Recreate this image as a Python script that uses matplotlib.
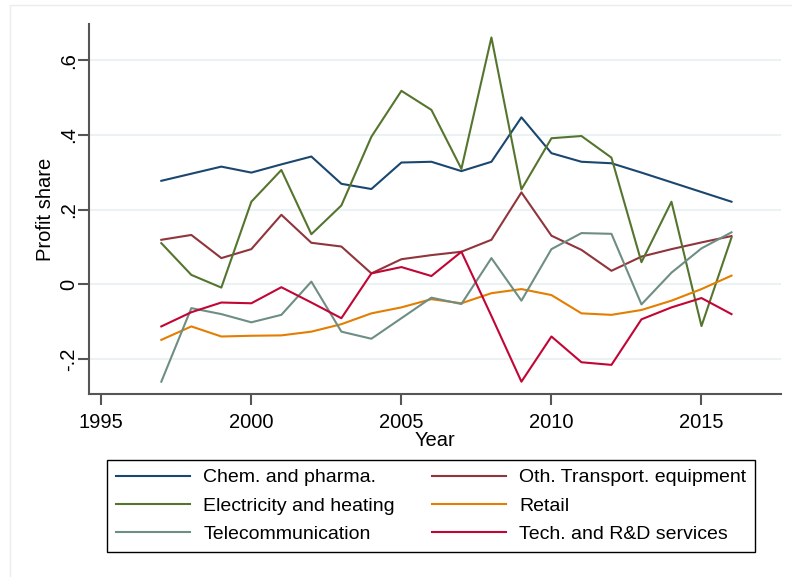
import numpy as np
import matplotlib.pyplot as plt
from matplotlib.patches import Rectangle

plt.rcParams['font.family'] = ['Liberation Sans', 'DejaVu Sans']

years = np.arange(1997, 2017)

chem = [0.277, 0.296, 0.315, 0.299, 0.321, 0.342, 0.269, 0.255, 0.326, 0.328,
        0.303, 0.328, 0.447, 0.351, 0.328, 0.324, 0.299, 0.273, 0.247, 0.221]
oth_transport = [0.119, 0.132, 0.070, 0.094, 0.186, 0.111, 0.101, 0.029, 0.067, 0.078,
                 0.087, 0.119, 0.246, 0.130, 0.092, 0.036, 0.074, 0.094, 0.112, 0.129]
electricity = [0.110, 0.025, -0.009, 0.221, 0.306, 0.134, 0.211, 0.395, 0.518, 0.467,
               0.309, 0.661, 0.254, 0.391, 0.397, 0.339, 0.059, 0.221, -0.112, 0.125]
retail = [-0.149, -0.113, -0.140, -0.138, -0.137, -0.127, -0.107, -0.078, -0.062, -0.040,
          -0.051, -0.024, -0.013, -0.029, -0.078, -0.082, -0.069, -0.044, -0.013, 0.023]
telecom = [-0.261, -0.064, -0.080, -0.102, -0.082, 0.007, -0.127, -0.146, -0.091, -0.036,
           -0.053, 0.070, -0.044, 0.094, 0.137, 0.135, -0.054, 0.031, 0.096, 0.139]
tech_rd = [-0.113, -0.075, -0.049, -0.051, -0.008, -0.049, -0.091, 0.029, 0.046, 0.022,
           0.087, -0.085, -0.261, -0.140, -0.209, -0.216, -0.094, -0.062, -0.037, -0.080]

series = [
    ("Chem. and pharma.", chem, "#1a476f"),
    ("Oth. Transport. equipment", oth_transport, "#90353b"),
    ("Electricity and heating", electricity, "#55752f"),
    ("Retail", retail, "#e37e00"),
    ("Telecommunication", telecom, "#6e8e84"),
    ("Tech. and R&D services", tech_rd, "#c10534"),
]

fig = plt.figure(figsize=(7.92, 5.77), dpi=100)
# faint outer graph region frame
fig.patches.append(Rectangle((10 / 792, -0.01), 1.0, 1 - 5 / 577 + 0.01, transform=fig.transFigure,
                             fill=False, edgecolor="#ececec", linewidth=1))
ax = fig.add_axes([89 / 792, 1 - 394 / 577, (781 - 89) / 792, (394 - 24) / 577])

lines = {}
for name, vals, col in series:
    lines[name], = ax.plot(years, vals, color=col, linewidth=1.5, label=name)

ax.set_xlim(1994.59, 2017.65)
ax.set_ylim(-0.294, 0.697)
ax.set_xticks([1995, 2000, 2005, 2010, 2015])
ax.set_yticks([-0.2, 0, 0.2, 0.4, 0.6])
ax.set_yticklabels(["-.2", "0", ".2", ".4", ".6"], rotation=90, va="center")
ax.yaxis.grid(True, color="#eaf2f3", linewidth=1.5)
ax.set_axisbelow(True)
for s in ["top", "right"]:
    ax.spines[s].set_visible(False)
for s in ["left", "bottom"]:
    ax.spines[s].set_color("#555555")
    ax.spines[s].set_linewidth(1.5)
ax.tick_params(axis="x", length=8, width=1.5, color="#555555", labelsize=14.5, pad=6)
ax.tick_params(axis="y", length=8, width=1.5, color="#555555", labelsize=14.5, pad=0)
ax.set_xlabel("Year", fontsize=14.5, labelpad=-1)
ax.set_ylabel("Profit share", fontsize=14.5, labelpad=3)

order = ["Chem. and pharma.", "Electricity and heating", "Telecommunication",
         "Oth. Transport. equipment", "Retail", "Tech. and R&D services"]
leg = fig.legend([lines[n] for n in order], order, ncol=2, loc="center",
                 bbox_to_anchor=(431 / 792, 1 - 506 / 577), fontsize=14,
                 frameon=True, fancybox=False, edgecolor="black", framealpha=1,
                 handlelength=3.8, handletextpad=0.7, columnspacing=1.9,
                 labelspacing=0.55, borderpad=0.45)
leg.get_frame().set_linewidth(1.0)

fig.savefig("out.png", dpi=100)
